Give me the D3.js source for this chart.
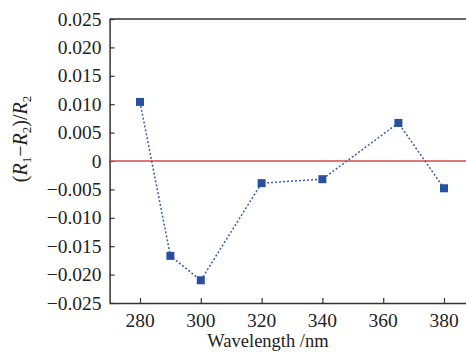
<!DOCTYPE html>
<html>
<head>
<meta charset="utf-8">
<script src="https://cdn.jsdelivr.net/npm/d3@7"></script>
<style>
  html, body { margin: 0; padding: 0; background: #fff; }
  svg { display: block; }
</style>
</head>
<body>
<svg id="chart" width="466" height="352" font-family="Liberation Serif"></svg>
<script>
const wavelengths = [280, 290, 300, 320, 340, 365, 380];
const ratioValues = [0.0104, -0.0167, -0.0210, -0.0039, -0.0032, 0.0067, -0.0048];
const xTicks = [280, 300, 320, 340, 360, 380];
const yTicks = [0.025, 0.020, 0.015, 0.010, 0.005, 0, -0.005, -0.010, -0.015, -0.020, -0.025];

(function () {
const FONT = "Liberation Serif";
const svg = d3.select("#chart");
const pL = 109.6, pR = 474.4, pT = 19, pB = 303;

const x = d3.scaleLinear().domain([270, 390]).range([pL, pR]);
const y = d3.scaleLinear().domain([-0.025, 0.025]).range([pB, pT]);

const fmtY = d => d === 0 ? "0" : (d < 0 ? "\u2212" : "") + Math.abs(d).toFixed(3);

const yAxis = svg.append("g").attr("transform", `translate(${pL},0)`)
  .call(d3.axisLeft(y).tickValues(yTicks).tickSizeInner(-5).tickSizeOuter(0).tickFormat(""));
const xAxis = svg.append("g").attr("transform", `translate(0,${pB})`)
  .call(d3.axisBottom(x).tickValues(xTicks).tickSizeInner(-5).tickSizeOuter(0).tickFormat(""));

[yAxis, xAxis].forEach(g => {
  g.select(".domain").attr("stroke", "#333").attr("stroke-width", 1.5);
  g.selectAll(".tick line").attr("stroke", "#333").attr("stroke-width", 1.2);
  g.selectAll(".tick text").remove();
});

svg.append("g").selectAll("text").data(yTicks).join("text")
  .attr("x", pL - 8).attr("y", d => y(d)).attr("dy", "0.34em")
  .attr("text-anchor", "end").attr("font-family", FONT).attr("font-size", 19.5).attr("fill", "#222")
  .text(fmtY);
svg.append("g").selectAll("text").data(xTicks).join("text")
  .attr("x", d => x(d)).attr("y", 327)
  .attr("text-anchor", "middle").attr("font-family", FONT).attr("font-size", 19.5).attr("fill", "#222")
  .text(d3.format("d"));

svg.append("line").attr("x1", pL).attr("x2", pR).attr("y1", pT).attr("y2", pT)
  .attr("stroke", "#333").attr("stroke-width", 1.5);

svg.append("line").attr("x1", pL + 1).attr("x2", pR).attr("y1", y(0)).attr("y2", y(0))
  .attr("stroke", "#d9474a").attr("stroke-width", 1.4);

const pts = wavelengths.map((w, i) => [w, ratioValues[i]]);

svg.append("path").datum(pts)
  .attr("d", d3.line().x(d => x(d[0])).y(d => y(d[1])))
  .attr("fill", "none").attr("stroke", "#3d5ea8").attr("stroke-width", 1.5)
  .attr("stroke-dasharray", "2,2");

svg.selectAll("rect.pt").data(pts).join("rect").attr("class", "pt")
  .attr("x", d => x(d[0]) - 4).attr("y", d => y(d[1]) - 4)
  .attr("width", 8).attr("height", 8).attr("fill", "#2650a0");

svg.append("text").attr("x", 268).attr("y", 347).attr("text-anchor", "middle")
  .attr("font-family", FONT).attr("font-size", 18.5).attr("fill", "#222").text("Wavelength /nm");

const yl = svg.append("text").attr("transform", "translate(27,139) rotate(-90)")
  .attr("text-anchor", "middle").attr("font-family", FONT).attr("font-size", 20).attr("fill", "#222");
yl.append("tspan").text("(");
yl.append("tspan").attr("font-style", "italic").text("R");
yl.append("tspan").attr("dy", 4).attr("font-size", 13).text("1");
yl.append("tspan").attr("dy", -4).text("\u2212");
yl.append("tspan").attr("font-style", "italic").text("R");
yl.append("tspan").attr("dy", 4).attr("font-size", 13).text("2");
yl.append("tspan").attr("dy", -4).text(")/");
yl.append("tspan").attr("font-style", "italic").text("R");
yl.append("tspan").attr("dy", 4).attr("font-size", 13).text("2");
})();
</script>
</body>
</html>
